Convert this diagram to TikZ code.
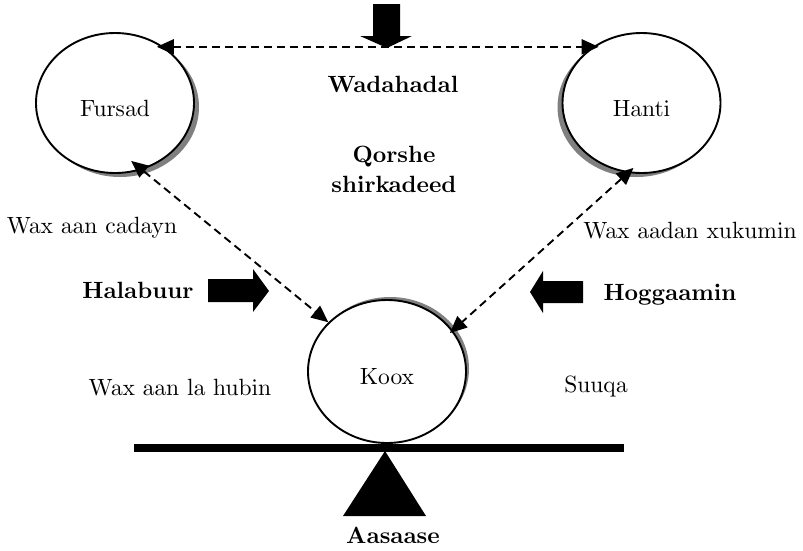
\documentclass[tikz,border=0pt]{standalone}
\usetikzlibrary{arrows.meta,shapes.geometric,shadows}
\font\regf=cmr10 at 23.5pt
\font\boldf=cmbx10 at 23.5pt
\begin{document}
\begin{tikzpicture}[x=1pt,y=-1pt,
  txt/.style={font={\fontsize{23.5}{30}\selectfont\regf}, inner sep=0pt, anchor=base},
  btxt/.style={txt, font={\fontsize{23.5}{30}\selectfont\boldf}},
  oval/.style={ellipse, draw, line width=1.9pt, fill=white, minimum width=158pt, minimum height=140pt, inner sep=0pt, text height=26pt, text depth=0pt, font=\regf},
  shad/.style={drop shadow={#1, fill=gray, opacity=1}},
  darr/.style={line width=1.9pt, dash pattern=on 8pt off 5pt, {Triangle[length=17pt,width=15pt]}-{Triangle[length=17pt,width=15pt]}},
  blk/.style={fill=black},
]
\useasboundingbox (0,0) rectangle (803,550);
% ovals
\node[oval, shad={shadow xshift=5pt, shadow yshift=-4pt}] (fursad) at (115,103) {Fursad};
\node[oval, shad={shadow xshift=-5pt, shadow yshift=-4pt}] (hanti) at (641.5,103) {Hanti};
\node[oval, minimum height=143pt, shad={shadow xshift=3pt, shadow yshift=3pt}] (koox) at (387,371.5) {Koox};
% balance
\fill[blk] (134,444) rectangle (624,452);
\fill[blk] (385,451) -- (426,516) -- (343,516) -- cycle;
% block arrows
\fill[blk] (373,4) -- (400,4) -- (400,36) -- (412,36) -- (387,48) -- (360,36) -- (373,36) -- cycle;
\fill[blk] (208,279) -- (253,279) -- (253,269) -- (269,291) -- (253,312) -- (253,302) -- (208,302) -- cycle;
\fill[blk] (583,281) -- (543,281) -- (543,271) -- (530,292) -- (543,313) -- (543,303) -- (583,303) -- cycle;
% texts
\node[btxt] (wad) at (393,92) {Wadahadal};
\node[btxt, align=center, anchor=center] (qor) at (394,169) {Qorshe\\shirkadeed};
\node[txt] (cad) at (92,233) {Wax aan cadayn};
\node[btxt] (hal) at (138,298) {Halabuur};
\node[btxt] (hog) at (670,300) {Hoggaamin};
\node[txt] (xuk) at (690,238) {Wax aadan xukumin};
\node[txt] (hub) at (180,395) {Wax aan la hubin};
\node[txt] (suu) at (596,392) {Suuqa};
\node[btxt] (aas) at (393,543) {Aasaase};
% connectors
\draw[darr, shorten <=-7pt, shorten >=-6pt] (fursad.49) -- (hanti.131);
\draw[darr, shorten <=-14pt] (fursad.-68) -- (koox.140);
\draw[darr, shorten <=-7.5pt, shorten >=-4pt] (hanti.-101) -- (koox.32);
\end{tikzpicture}
\end{document}
